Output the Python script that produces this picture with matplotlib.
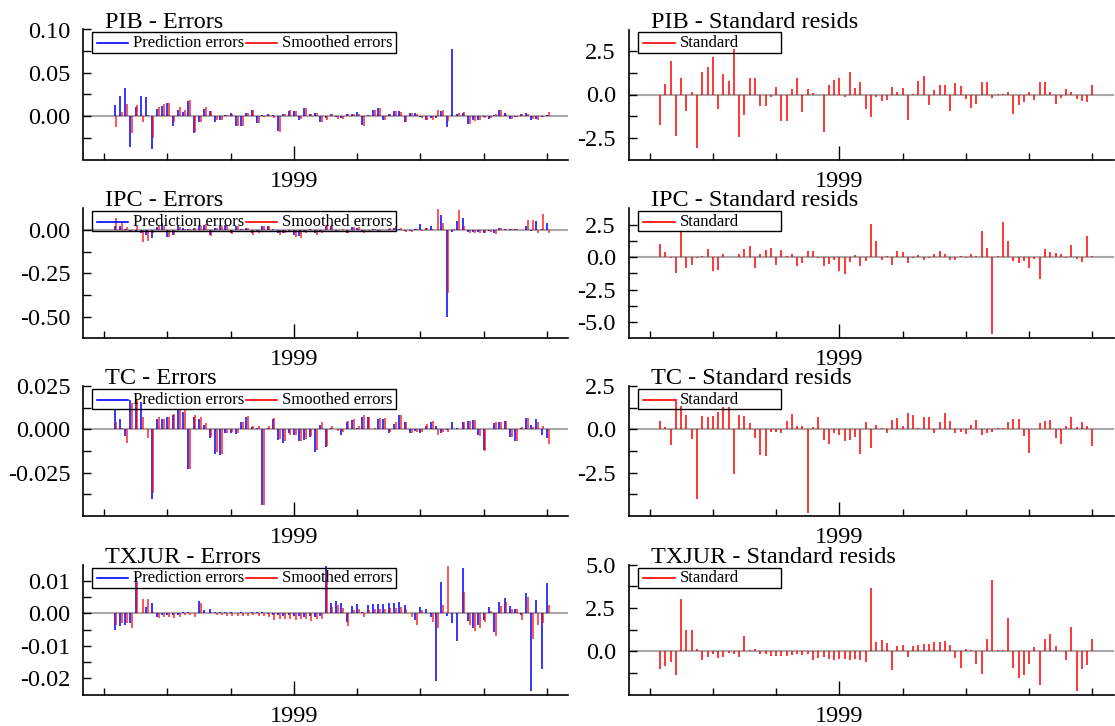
import numpy as np
import pandas as pd
import matplotlib
matplotlib.use("Agg")
import matplotlib.pyplot as plt
from matplotlib.lines import Line2D
from matplotlib.patches import Rectangle

plt.rcParams['font.family'] = ['Liberation Serif', 'DejaVu Serif']
plt.rcParams['axes.unicode_minus'] = False

# monthly observations 1996:3 - 2003:1
months = pd.period_range("1996-03", "2003-01", freq="M")
t = np.asarray(months.year + (months.month - 1) / 12.0)

pib_pred = [0.013, 0.023, 0.033, -0.036, 0.010, 0.023, 0.022, -0.038, 0.008,
            0.012, 0.015, -0.011, 0.007, 0.005, 0.018, -0.019, -0.007, 0.008, 0.006,
            -0.007, -0.005, 0.001, 0.004, -0.011, -0.011, 0.004, 0.007, -0.008, 0.001,
            0.002, 0.001, -0.017, 0.003, 0.006, 0.006, -0.004, 0.009, 0.003, 0.004,
            -0.007, -0.002, 0.003, -0.001, -0.002, 0.003, 0.003, 0.005, -0.010, 0.001,
            0.007, 0.009, -0.004, 0.003, 0.006, 0.006, -0.007, 0.004, 0.004, -0.001,
            -0.005, -0.002, -0.002, 0.006, -0.012, 0.077, 0.003, 0.004, -0.009, -0.005,
            -0.004, -0.001, -0.003, 0.001, 0.007, 0.004, -0.003, -0.001, 0.002, 0.004,
            -0.004, -0.003, -0.001, 0.001]
pib_smooth = [-0.012, 0.005, 0.014, -0.019, 0.013, -0.007, 0.001, -0.025, 0.010,
              0.014, 0.015, -0.007, 0.010, 0.007, 0.019, -0.018, -0.007, 0.010, 0.006,
              -0.005, -0.005, 0.001, 0.003, -0.011, -0.011, 0.004, 0.007, -0.008, -0.001,
              0.001, -0.002, -0.018, 0.003, 0.007, 0.006, -0.003, 0.009, 0.003, 0.004,
              -0.007, -0.004, 0.002, -0.003, -0.003, 0.002, 0.003, 0.003, -0.011, 0.001,
              0.007, 0.009, -0.004, 0.003, 0.006, 0.005, -0.007, 0.004, 0.003, -0.002,
              -0.004, -0.004, 0.007, 0.007, -0.006, 0.000, 0.004, 0.005, -0.009, -0.006,
              -0.005, -0.002, -0.002, 0.002, 0.007, 0.002, -0.003, -0.001, 0.002, 0.003,
              -0.003, -0.004, -0.001, 0.005]
pib_std = [-1.78, 0.6, 1.96, -2.38, 0.93, -0.97, 0.12, -3.08, 1.3,
           1.6, 2.15, -0.83, 1.16, 0.78, 2.6, -2.44, -1.16, 0.97, 0.97,
           -0.68, -0.66, -0.12, 0.46, -1.5, -1.55, 0.33, 0.95, -0.99, 0.33,
           0.08, -0.03, -2.17, 0.52, 0.85, 0.97, -0.17, 1.3, 0.4, 0.72,
           -0.83, -1.32, -0.14, -0.37, -0.33, 0.45, 0.12, 0.39, -1.45, 0.02,
           0.78, 1.06, -0.62, 0.25, 0.56, 0.56, -0.95, 0.64, 0.5, -0.25,
           -0.77, -0.56, 0.72, 0.72, -0.2, 0.02, 0.02, 0.15, -1.14, -0.6,
           -0.45, 0.15, -0.3, 0.72, 0.72, 0.15, -0.52, -0.2, 0.3, 0.15,
           -0.25, -0.4, -0.42, 0.56]

ipc_pred = [0.02, 0.02, 0.005, -0.005, -0.01, -0.02, -0.03, -0.045, 0.015,
            0.04, -0.04, -0.03, 0.02, 0.01, 0.005, 0.01, 0.02, 0.03, -0.03,
            0.01, 0.02, 0.03, -0.02, 0.02, 0.005, 0.01, -0.02, -0.01, 0.02,
            0.02, 0.003, -0.02, -0.015, -0.005, -0.03, -0.035, -0.01, 0.005, -0.02,
            -0.01, 0.02, 0.02, -0.005, 0.002, -0.015, 0.015, 0.01, -0.01, -0.003,
            0.005, -0.005, -0.002, 0.005, 0.01, 0.005, -0.005, -0.005, 0.003, 0.035,
            0.01, 0.02, 0.002, 0.087, -0.50, -0.01, 0.054, 0.07, -0.01, -0.01,
            -0.01, -0.02, -0.005, -0.02, 0.01, 0.005, 0.005, 0.005, -0.002, 0.02,
            -0.005, 0.054, 0.003, 0.038]
ipc_smooth = [0.07, 0.04, 0.017, -0.01, 0.02, -0.07, -0.065, -0.02, 0.02,
              0.02, -0.04, -0.03, 0.015, 0.005, 0.005, 0.012, 0.025, 0.035, -0.035,
              0.012, 0.025, 0.03, -0.025, 0.025, 0.003, 0.012, -0.03, -0.015, 0.02,
              0.02, -0.003, -0.03, -0.02, -0.008, -0.04, -0.045, -0.015, 0.006, -0.03,
              -0.015, 0.03, 0.02, -0.01, 0.003, -0.02, 0.018, 0.015, -0.015, -0.005,
              0.006, -0.01, -0.003, 0.01, 0.02, 0.01, -0.01, -0.01, 0.003, -0.005,
              0.012, 0.003, 0.12, 0.04, -0.365, 0.003, 0.115, 0.02, -0.015, -0.02,
              -0.015, -0.02, -0.01, -0.025, 0.01, 0.006, 0.005, 0.004, -0.002, 0.055,
              0.058, -0.02, 0.092, -0.02]
ipc_std = [1.0, 0.4, -0.05, -1.2, 1.9, -0.83, -0.65, -0.1, 0.05,
           0.62, -1.07, -1.02, 0.23, -0.03, 0.03, 0.26, 0.62, 0.83, -0.83,
           0.26, 0.57, 0.72, -0.62, 0.57, 0.05, 0.23, -0.7, -0.42, 0.44,
           0.47, -0.05, -0.68, -0.52, -0.2, -1.07, -1.3, -0.36, 0.15, -0.7,
           -0.34, 2.58, 1.23, -0.23, 0.05, -0.62, 0.47, 0.39, -0.42, -0.1,
           0.15, -0.23, -0.05, 0.23, 0.49, 0.26, -0.23, -0.23, 0.05, -0.1,
           0.26, 0.05, 2.0, 0.68, -5.94, 0.05, 2.73, 1.25, -0.31, -0.44,
           -0.31, -0.88, -0.18, -1.7, 0.62, 0.39, 0.34, 0.23, -0.05, 0.93,
           -0.15, -0.36, 1.64, 0.05]

tc_pred = [0.012, 0.006, -0.004, 0.017, 0.016, 0.016, 0.000, -0.040, 0.006,
           0.006, 0.007, 0.008, 0.011, 0.010, -0.023, 0.007, 0.006, 0.0025, -0.005,
           -0.014, -0.015, -0.002, -0.002, -0.0025, 0.004, 0.007, 0.0015, 0.001, -0.0437,
           0.001, 0.006, -0.006, -0.008, -0.002, -0.0035, -0.0067, -0.006, -0.0046, -0.013,
           0.0025, -0.010, 0.001, 0.000, -0.003, 0.004, 0.0054, 0.001, 0.0073, 0.007,
           0.000, 0.006, 0.006, -0.002, 0.003, 0.008, 0.004, -0.002, -0.001, -0.002,
           0.002, 0.0045, 0.002, -0.002, -0.0005, 0.0045, 0.001, 0.0045, 0.005, 0.0054,
           -0.0033, -0.012, 0.000, 0.0035, 0.0042, 0.005, -0.0046, -0.0067, 0.001, 0.0067,
           0.0025, 0.006, -0.003, -0.005]
tc_smooth = [0.0045, 0.001, -0.008, 0.015, 0.017, 0.007, -0.005, -0.037, 0.007,
             0.006, 0.007, 0.009, 0.012, 0.011, -0.023, 0.008, 0.007, 0.0035, -0.0046,
             -0.013, -0.014, -0.002, -0.0015, -0.002, 0.0045, 0.0077, 0.002, 0.002, -0.0437,
             0.002, 0.0067, -0.0058, -0.007, -0.003, -0.003, -0.0065, -0.0055, -0.004, -0.012,
             0.004, -0.0096, 0.002, -0.001, -0.0015, 0.005, 0.006, 0.002, 0.008, 0.0073,
             0.001, 0.0065, 0.0065, -0.0015, 0.004, 0.0083, 0.0045, -0.002, -0.0015, -0.0015,
             0.003, 0.005, -0.003, -0.0015, -0.0015, 0.000, 0.000, 0.004, 0.005, 0.0054,
             -0.004, -0.0123, 0.000, 0.004, 0.0045, 0.005, -0.0046, -0.007, 0.0015, 0.0067,
             0.0015, 0.004, 0.002, -0.0085]
tc_std = [0.5, 0.12, -0.92, 1.73, 1.35, 0.83, -0.56, -4.04, 0.77,
          0.73, 0.77, 0.98, 1.29, 1.29, -2.56, 0.85, 0.77, 0.38, -0.5,
          -1.48, -1.56, -0.13, -0.13, -0.19, 0.48, 0.88, 0.21, 0.17, -4.8,
          0.15, 0.73, -0.62, -0.87, -0.23, -0.33, -0.67, -0.62, -0.44, -1.4,
          0.42, -1.06, 0.23, 0.1, -0.21, 0.54, 0.67, 0.19, 0.92, 0.83,
          0.06, 0.73, 0.73, -0.21, 0.4, 0.92, 0.46, -0.19, -0.13, -0.25,
          0.25, 0.54, -0.33, -0.23, -0.13, 0.06, 0.06, 0.44, 0.58, 0.62,
          -0.4, -1.35, 0.04, 0.38, 0.46, 0.54, -0.5, -0.83, 0.19, 0.73,
          0.15, 0.42, 0.19, -0.96]

txjur_pred = [-0.005, -0.004, -0.0035, -0.003, 0.011, 0.000, 0.002, 0.0033, -0.0012,
              -0.0006, -0.0005, -0.0006, -0.0005, 0.0005, 0.0005, 0.000, 0.0038, 0.001, 0.0014,
              0.0003, 0.0005, 0.0003, 0.0003, 0.000, 0.0003, 0.0002, 0.0006, 0.0004, 0.0003,
              -0.0003, -0.0005, -0.0006, -0.0007, -0.0005, -0.0008, -0.0008, -0.0011, -0.0008, -0.001,
              -0.0008, 0.0145, 0.0033, 0.0038, 0.0033, -0.0026, 0.0024, 0.0029, 0.0003, 0.0025,
              0.0028, 0.0029, 0.003, 0.0032, 0.0031, 0.0036, 0.0026, 0.000, -0.002, 0.0019,
              0.0014, -0.0012, -0.0208, 0.0098, -0.0008, -0.003, -0.0085, 0.014, -0.0024, -0.0044,
              -0.0036, -0.002, 0.0019, -0.0057, 0.0036, 0.0047, 0.0023, 0.0014, -0.0005, 0.0064,
              -0.024, 0.0041, -0.017, 0.0093]
txjur_smooth = [-0.0036, -0.003, -0.003, -0.0046, 0.0098, 0.0044, 0.0044, 0.0006, -0.0015,
                -0.0012, -0.001, -0.0014, -0.0012, -0.0005, -0.0005, -0.0012, 0.0033, 0.000, 0.0003,
                -0.0005, -0.0006, -0.0007, -0.0008, -0.0008, -0.0008, -0.0008, -0.0005, -0.0007, -0.0008,
                -0.001, -0.002, -0.0016, -0.0016, -0.0016, -0.002, -0.0018, -0.0018, -0.0022, -0.0016,
                -0.0018, 0.013, 0.002, 0.0026, 0.0018, -0.0038, 0.0012, 0.0014, -0.001, 0.0012,
                0.0013, 0.0015, 0.0015, 0.0017, 0.0017, 0.002, 0.0015, -0.0012, -0.0034, 0.001,
                0.000, -0.0026, -0.0046, 0.0026, 0.0146, 0.000, 0.000, 0.0067, -0.0036, -0.0054,
                -0.0046, -0.0026, 0.0008, -0.007, 0.0024, 0.0035, 0.0014, 0.0013, -0.0019, 0.005,
                -0.008, -0.0036, -0.0029, 0.0026]
txjur_std = [-1.0, -0.85, -0.63, -1.35, 3.04, 1.21, 1.21, 0.12, -0.48,
             -0.33, -0.17, -0.38, -0.33, -0.08, -0.13, -0.33, 0.87, 0.06, 0.15,
             -0.13, -0.17, -0.25, -0.25, -0.29, -0.25, -0.23, -0.13, -0.19, -0.17,
             -0.52, -0.37, -0.33, -0.46, -0.48, -0.42, -0.46, -0.52, -0.46, -0.48,
             -0.62, 3.65, 0.54, 0.67, 0.48, -1.1, 0.29, 0.38, -0.33, 0.29,
             0.38, 0.4, 0.44, 0.52, 0.54, 0.6, 0.38, -0.38, -0.96, 0.15,
             0.06, -0.71, -1.33, 0.71, 4.13, 0.06, 0.06, 1.9, -0.96, -1.54,
             -1.35, -0.75, 0.25, -1.96, 0.69, 0.98, 0.31, 0.0, -0.48, 1.42,
             -2.29, -1.0, -0.81, 0.71]

names = ["PIB", "IPC", "TC", "TXJUR"]
pred = [pib_pred, ipc_pred, tc_pred, txjur_pred]
smooth = [pib_smooth, ipc_smooth, tc_smooth, txjur_smooth]
stdres = [pib_std, ipc_std, tc_std, txjur_std]

err_lims = [(-0.05, 0.10), (-0.625, 0.125), (-0.05, 0.025), (-0.025, 0.015)]
err_major = [([0.0, 0.05, 0.10], ["0.00", "0.05", "0.10"]),
             ([-0.5, -0.25, 0.0], ["-0.50", "-0.25", "0.00"]),
             ([-0.025, 0.0, 0.025], ["-0.025", "0.000", "0.025"]),
             ([-0.02, -0.01, 0.0, 0.01], ["-0.02", "-0.01", "0.00", "0.01"])]
err_minor = [[-0.025, 0.025, 0.075], [-0.375, -0.125], [-0.0375, -0.0125, 0.0125],
             [-0.015, -0.005, 0.005]]
std_lims = [(-3.75, 3.75), (-6.25, 3.75), (-5.0, 2.5), (-2.5, 5.0)]
std_major = [([-2.5, 0.0, 2.5], ["-2.5", "0.0", "2.5"]),
             ([-5.0, -2.5, 0.0, 2.5], ["-5.0", "-2.5", "0.0", "2.5"]),
             ([-2.5, 0.0, 2.5], ["-2.5", "0.0", "2.5"]),
             ([0.0, 2.5, 5.0], ["0.0", "2.5", "5.0"])]
std_minor = [[-1.25, 1.25], [-3.75, -1.25, 1.25], [-3.75, -1.25, 1.25], [-1.25, 1.25, 3.75]]

W, H = 1115, 726
fig = plt.figure(figsize=(W / 100, H / 100), dpi=100)
FS = 17.5

row_top = [29.5, 208.3, 386.0, 564.7]
ax_h = 130.0
left_x = (83.0, 568.0)
right_x = (628.5, 1113.5)


def px_axes(x0, x1, top):
    return fig.add_axes([x0 / W, 1 - (top + ax_h) / H, (x1 - x0) / W, ax_h / H])


def legend_box(x0, x1, top, entries):
    bottom = top + 20
    fig.add_artist(Rectangle((x0 / W, 1 - bottom / H), (x1 - x0) / W, 20 / H,
                             transform=fig.transFigure, fill=False, ec="black", lw=1.0))
    y = 1 - (top + 10.5) / H
    for lx0, lx1, label, color in entries:
        fig.add_artist(Line2D([lx0 / W, lx1 / W], [y, y], transform=fig.transFigure,
                              color=color, lw=1.2))
        fig.text((lx1 + 5) / W, y, label, fontsize=12, va="center", ha="left")


def style(ax, ylim, major, minor):
    ax.set_xlim(1996 - 4 / 12, 1996 + 88 / 12)
    ax.set_ylim(*ylim)
    ax.axhline(0, color="#a9a9a9", lw=1.5, zorder=0)
    for s in ["top", "right"]:
        ax.spines[s].set_visible(False)
    for s in ["left", "bottom"]:
        ax.spines[s].set_linewidth(1.2)
    ax.set_xticks([1999])
    ax.set_xticklabels(["1999"])
    ax.set_xticks([y for y in range(1996, 2004) if y != 1999], minor=True)
    ax.set_yticks(major[0])
    ax.set_yticklabels(major[1])
    ax.set_yticks(minor, minor=True)
    ax.tick_params(which="both", direction="in", labelsize=FS, width=1.0)
    ax.tick_params(axis="x", which="major", length=10, pad=8)
    ax.tick_params(axis="x", which="minor", length=5)
    ax.tick_params(axis="y", which="both", length=6, pad=9)
    ax.patch.set_alpha(0)


for i, name in enumerate(names):
    top = row_top[i]
    axl = px_axes(left_x[0], left_x[1], top)
    style(axl, err_lims[i], err_major[i], err_minor[i])
    axl.vlines(t, 0, pred[i], colors="#0000ff", lw=1.1, zorder=2)
    axl.vlines(t + 0.027, 0, smooth[i], colors="#ff0000", lw=1.1, zorder=2, alpha=0.85)
    fig.text(105 / W, 1 - (top - 2) / H, f"{name} - Errors", fontsize=FS, va="baseline")
    legend_box(92, 396, top + 3, [(97, 128, "Prediction errors", "#0000ff"),
                                  (246, 277, "Smoothed errors", "#ff0000")])

    axr = px_axes(right_x[0], right_x[1], top)
    style(axr, std_lims[i], std_major[i], std_minor[i])
    axr.vlines(t, 0, stdres[i], colors="#ff0000", lw=1.1, zorder=2)
    fig.text(651 / W, 1 - (top - 2) / H, f"{name} - Standard resids", fontsize=FS, va="baseline")
    legend_box(638, 781, top + 3, [(643, 675, "Standard", "#ff0000")])

fig.savefig("out.png", dpi=100)
